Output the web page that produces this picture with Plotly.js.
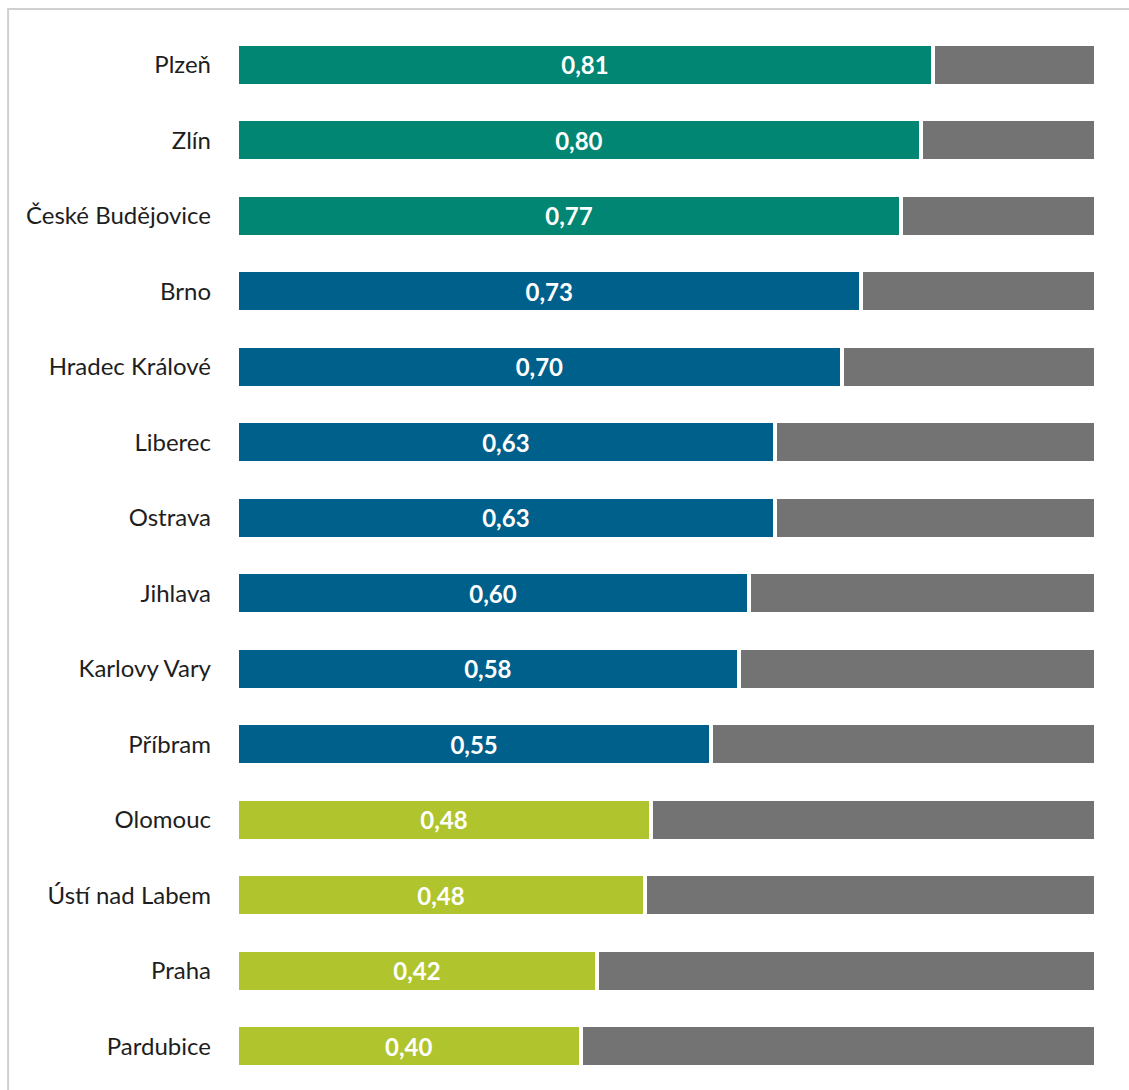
<!DOCTYPE html>
<html>
<head>
<meta charset="utf-8">
<script src="https://cdn.plot.ly/plotly-3.0.1.min.js"></script>
<style>
  html, body { margin: 0; padding: 0; background: #ffffff; }
  #chart { width: 1129px; height: 1090px; }
</style>
</head>
<body>
<div id="chart"></div>
<script>
// Data
const cities = ["Plzeň", "Zlín", "České Budějovice", "Brno", "Hradec Králové", "Liberec", "Ostrava",
                "Jihlava", "Karlovy Vary", "Příbram", "Olomouc", "Ústí nad Labem", "Praha", "Pardubice"];
const shareValues = [0.810, 0.796, 0.773, 0.727, 0.704, 0.626, 0.626, 0.596, 0.584, 0.552, 0.482, 0.475, 0.419, 0.400];
const shareLabels = ["0,81", "0,80", "0,77", "0,73", "0,70", "0,63", "0,63", "0,60", "0,58", "0,55", "0,48", "0,48", "0,42", "0,40"];
const groups = ["high", "high", "high", "mid", "mid", "mid", "mid", "mid", "mid", "mid", "low", "low", "low", "low"];
const remainderValues = shareValues.map(v => 1 - v);

const groupColors = { high: "#008673", mid: "#00608C", low: "#AFC42D" };
const greyColor = "#737373";

const traceShare = {
  type: "bar",
  orientation: "h",
  y: cities,
  x: shareValues,
  text: shareLabels,
  textposition: "inside",
  insidetextanchor: "middle",
  textangle: 0,
  insidetextfont: { family: "Lato, 'Open Sans', sans-serif", size: 24, color: "#ffffff", weight: "bold" },
  marker: { color: groups.map(g => groupColors[g]), line: { color: "#ffffff", width: 4 } },
  width: 0.555,
  hoverinfo: "none",
  cliponaxis: false
};

const traceRest = {
  type: "bar",
  orientation: "h",
  y: cities,
  x: remainderValues,
  marker: { color: greyColor, line: { color: "#ffffff", width: 4 } },
  width: 0.555,
  hoverinfo: "none",
  textposition: "none"
};

const layout = {
  width: 1129,
  height: 1090,
  barmode: "stack",
  showlegend: false,
  paper_bgcolor: "#ffffff",
  plot_bgcolor: "#ffffff",
  margin: { l: 237, r: 33, t: 27, b: 6, pad: 0 },
  xaxis: {
    range: [0, 1],
    showgrid: false,
    zeroline: false,
    showline: false,
    showticklabels: false,
    ticks: "",
    fixedrange: true
  },
  yaxis: {
    type: "category",
    autorange: "reversed",
    showgrid: false,
    zeroline: false,
    showline: false,
    ticks: "",
    ticklabelstandoff: 25,
    tickfont: { family: "Lato, 'Open Sans', sans-serif", size: 24, color: "#1e1e1e" },
    fixedrange: true
  },
  shapes: [
    {
      type: "rect", xref: "paper", yref: "paper",
      x0: -0.2665, x1: 2, y0: -1, y1: 1.017,
      line: { color: "#d0d0d0", width: 2 },
      fillcolor: "rgba(0,0,0,0)",
      layer: "below"
    }
  ]
};

Plotly.newPlot("chart", [traceShare, traceRest], layout, { displayModeBar: false, staticPlot: true });
</script>
</body>
</html>
